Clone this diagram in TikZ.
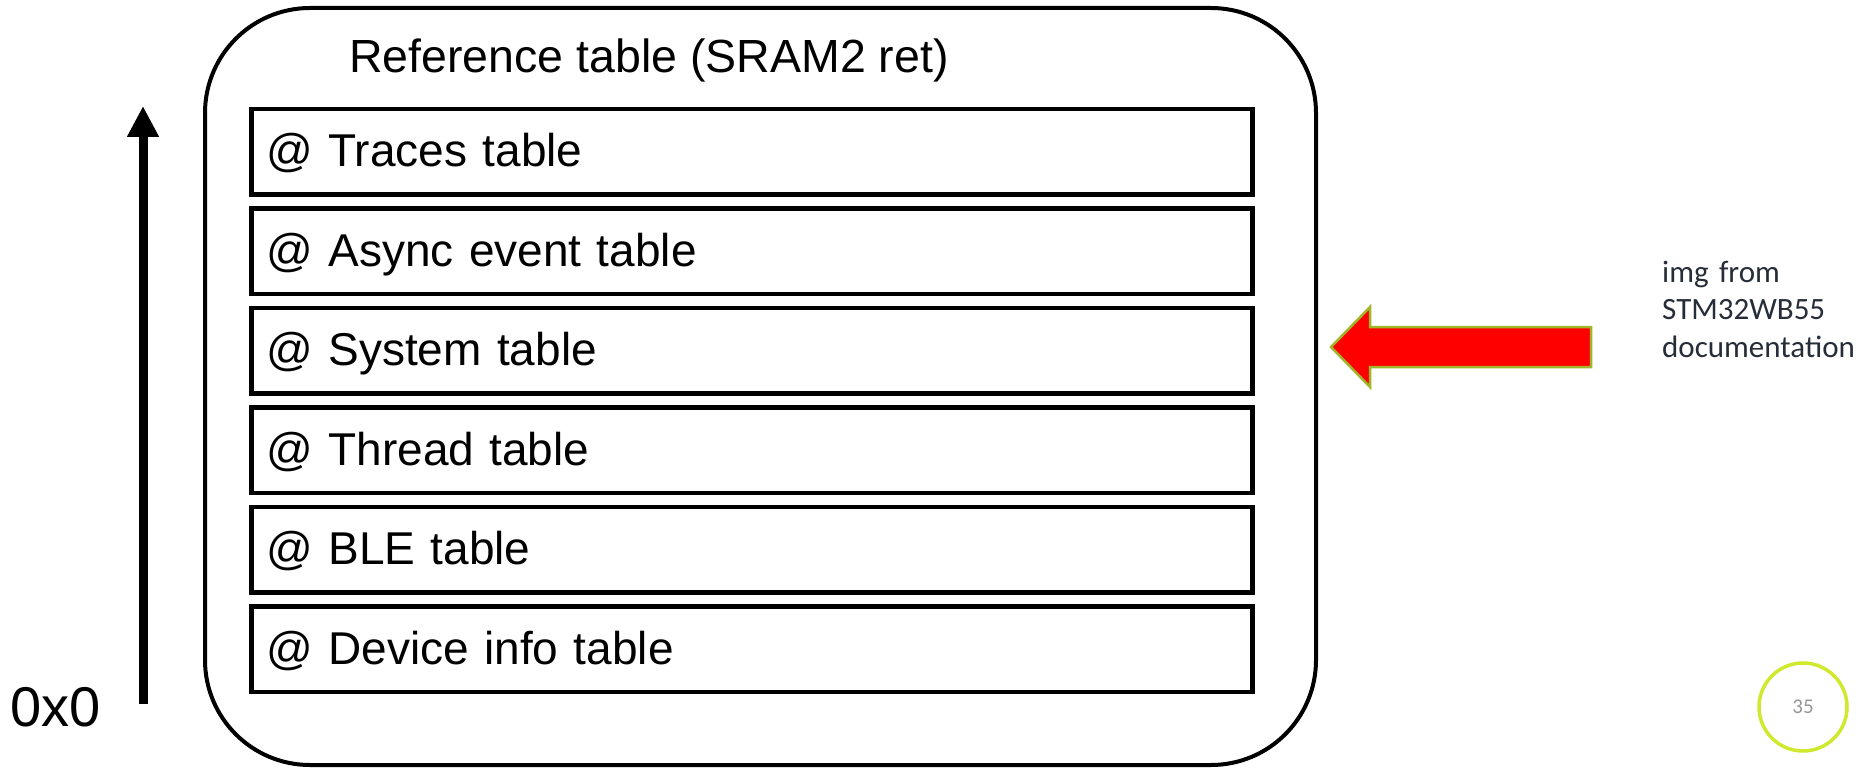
\documentclass[tikz,border=0pt]{standalone}
\usepackage{fontspec}
\setmainfont{Liberation Sans}
\newfontfamily\calibri{Carlito}
\usetikzlibrary{arrows.meta}
\definecolor{arrowred}{RGB}{255,0,0}
\definecolor{arrowedge}{RGB}{160,182,40}
\definecolor{ringgreen}{RGB}{208,232,45}
\definecolor{notegray}{RGB}{38,44,56}
\definecolor{pagegray}{RGB}{150,150,150}
\begin{document}
\begin{tikzpicture}[x=1pt,y=-1pt,
  frame/.style={draw, line width=4pt, rounded corners=105pt,
    minimum width=1111pt, minimum height=757pt, inner sep=0pt},
  rowbox/.style={draw, line width=4.5pt, minimum height=85.5pt,
    text width=971pt, inner xsep=15pt, inner ysep=0pt, align=left,
    text height=36pt, text depth=6pt, font=\fontsize{46}{55}\selectfont},
  title/.style={anchor=base, inner sep=0pt, font=\fontsize{46.5}{56}\selectfont},
  addr/.style={anchor=base west, inner sep=0pt, font=\fontsize{56}{66}\selectfont},
  note/.style={anchor=base west, inner sep=0pt, text width=210pt, align=left,
    text=notegray, font=\calibri\fontsize{31}{37.5}\selectfont},
  pagenum/.style={circle, draw=ringgreen, line width=3.5pt, minimum size=88pt,
    inner sep=0pt, text=pagegray, font=\calibri\fontsize{21}{25}\selectfont},
  growth/.style={line width=9pt, -{Triangle[width=30pt,length=31pt]}},
  pointer/.style={fill=arrowred, draw=arrowedge, line width=2.5pt, line join=miter}]
\useasboundingbox (0,0) rectangle (1868,770);

% outer rounded frame of the reference table
\node[frame] (ref) at (760.5,386.5) {};
\node[title] (head) at (649,73) {Reference table (SRAM2 ret)};

% table entries, highest address first
\node[rowbox] (traces) at (752,152.0) {@ Traces table};
\node[rowbox] (async)  at (752,251.4) {@ Async event table};
\node[rowbox] (system) at (752,350.8) {@ System table};
\node[rowbox] (thread) at (752,450.2) {@ Thread table};
\node[rowbox] (ble)    at (752,549.6) {@ BLE table};
\node[rowbox] (device) at (752,649.0) {@ Device info table};

% address direction
\coordinate (low) at (143,704);
\coordinate (high) at (143,106);
\draw[growth] (low) -- (high);
\node[addr] (zero) at (10,726) {0x0};

% red block arrow pointing at the table
\coordinate (tip) at (1331,347);
\draw[pointer] (tip) -- (1370,307) -- (1370,327) -- (1591,327)
  -- (1591,367) -- (1370,367) -- (1370,387) -- cycle;

\node[note] (src) at (1662,282) {img from\\STM32WB55\\documentation};

% slide number
\node[pagenum] (page) at (1803,707) {35};
\end{tikzpicture}
\end{document}
